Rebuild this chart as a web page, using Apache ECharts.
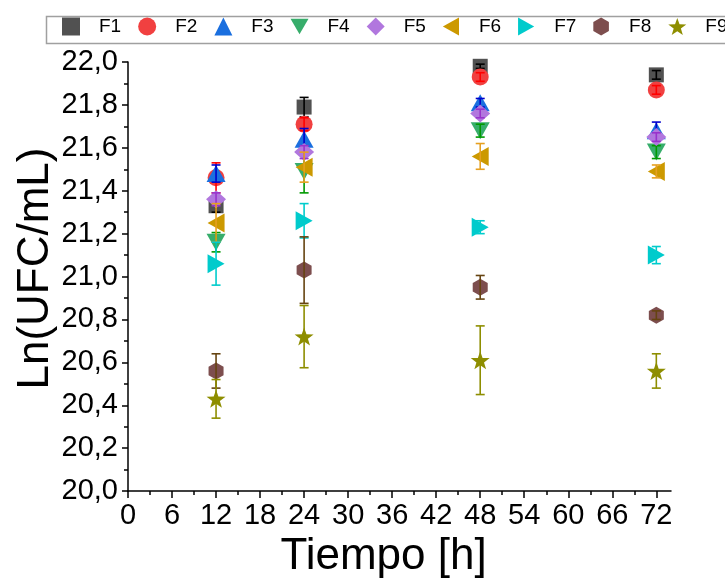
<!DOCTYPE html>
<html>
<head>
<meta charset="utf-8">
<script src="https://cdn.jsdelivr.net/npm/echarts@6/dist/echarts.min.js"></script>
<style>html,body{margin:0;padding:0;background:#fff}#c{width:725px;height:584px}</style>
</head>
<body>
<div id="c"></div>
<script>
const times = [12, 24, 48, 72];
const names = ['F1','F2','F3','F4','F5','F6','F7','F8','F9'];
const F1 = [21.33, 21.79, 21.98, 21.94];
const F2 = [21.46, 21.71, 21.93, 21.87];
const F3 = [21.48, 21.64, 21.81, 21.68];
const F4 = [21.16, 21.49, 21.68, 21.58];
const F5 = [21.36, 21.58, 21.76, 21.65];
const F6 = [21.25, 21.51, 21.56, 21.49];
const F7 = [21.06, 21.26, 21.23, 21.10];
const F8 = [20.56, 21.03, 20.95, 20.82];
const F9 = [20.43, 20.72, 20.61, 20.56];
const F1err = [0.03, 0.045, 0.01, 0.02];
const F2err = [0.07, 0.03, 0.02, 0.02];
const F3err = [0.04, 0.05, 0.02, 0.04];
const F4err = [0.045, 0.10, 0.03, 0.03];
const F5err = [0.03, 0.03, 0.02, 0.02];
const F6err = [0.09, 0.07, 0.06, 0.03];
const F7err = [0.10, 0.08, 0.03, 0.04];
const F8err = [0.08, 0.155, 0.055, 0.02];
const F9err = [0.09, 0.145, 0.16, 0.08];
const xMajorTicks = [0, 6, 12, 18, 24, 30, 36, 42, 48, 54, 60, 66, 72];
const xMinorTicks = [3, 9, 15, 21, 27, 33, 39, 45, 51, 57, 63, 69];

const means = [F1, F2, F3, F4, F5, F6, F7, F8, F9];
const errs = [F1err, F2err, F3err, F4err, F5err, F6err, F7err, F8err, F9err];
const colors = ['#515151', '#F14040', '#1A6FDF', '#37AD6B', '#B177DE', '#CC9900', '#00CBCC', '#7D4E4E', '#8E8E00'];
const errColors = ['#000000', '#FF0000', '#0000CC', '#009900', '#9933CC', '#E6A020', '#00CCCC', '#664411', '#8E8E00'];
const hexPath = 'path://M0,-10 L8.66,-5 L8.66,5 L0,10 L-8.66,5 L-8.66,-5 Z';
const starPath = 'path://M0,-10 L2.35,-3.24 L9.51,-3.09 L3.8,1.24 L5.88,8.09 L0,4 L-5.88,8.09 L-3.8,1.24 L-9.51,-3.09 L-2.35,-3.24 Z';
const downPath = 'path://M0,0 L20,0 L10,17 Z';
const leftPath = 'path://M17,0 L17,19 L0,9.5 Z';
const rightPath = 'path://M0,0 L0,19 L17,9.5 Z';
const symbols = ['rect', 'circle', 'triangle', 'triangle', 'diamond', 'triangle', 'triangle', hexPath, starPath];
const legendIcons = ['rect', 'circle', 'triangle', downPath, 'diamond', leftPath, rightPath, hexPath, starPath];
const sizes = [[15,15], [17,17], [19,17], [19,17], [20,18], [19,17], [19,17], [15,17], [19,18]];
const rotates = [0, 0, 0, 180, 0, 90, -90, 0, 0];

const series = [];
names.forEach((n, i) => {
  series.push({
    type: 'scatter', name: n, z: 2 + i * 2,
    data: times.map((t, j) => [t, means[i][j]]),
    symbol: symbols[i], symbolSize: sizes[i], symbolRotate: rotates[i],
    itemStyle: { color: colors[i], opacity: 1 },
    emphasis: { disabled: true }
  });
  const col = errColors[i];
  series.push({
    type: 'custom', name: n + ' err', z: 3 + i * 2, silent: true,
    data: times.map((t, j) => [t, means[i][j] - errs[i][j], means[i][j] + errs[i][j]]),
    encode: { x: 0, y: [1, 2] },
    renderItem: function (params, api) {
      const x = api.value(0);
      const lo = api.coord([x, api.value(1)]);
      const hi = api.coord([x, api.value(2)]);
      const c = 4.5;
      const st = { stroke: col, lineWidth: 1.6 };
      return {
        type: 'group', children: [
          { type: 'line', shape: { x1: lo[0], y1: lo[1], x2: hi[0], y2: hi[1] }, style: st },
          { type: 'line', shape: { x1: lo[0] - c, y1: lo[1], x2: lo[0] + c, y2: lo[1] }, style: st },
          { type: 'line', shape: { x1: hi[0] - c, y1: hi[1], x2: hi[0] + c, y2: hi[1] }, style: st }
        ]
      };
    }
  });
});

const chart = echarts.init(document.getElementById('c'), null, { renderer: 'canvas' });
chart.setOption({
  animation: false,
  backgroundColor: '#fff',
  textStyle: { fontFamily: 'Liberation Sans, Arial, sans-serif' },
  grid: { left: 128, right: 54, top: 62, bottom: 88, containLabel: false },
  legend: {
    data: names.map((n, i) => ({ name: n, icon: legendIcons[i] })),
    left: 62, top: 17, padding: 0, width: 1000, orient: 'horizontal',
    itemWidth: 18, itemHeight: 18, itemGap: 17,
    textStyle: { fontSize: 19, color: '#000', padding: [0, 0, 0, 14], fontFamily: 'Liberation Sans, Arial, sans-serif' },
    selectedMode: false
  },
  graphic: [{
    type: 'rect', left: 44, top: 14, shape: { width: 700, height: 27 },
    style: { fill: 'none', stroke: '#A0A0A0', lineWidth: 1.5 }, z: -1
  }],
  xAxis: [{
    type: 'value', min: 0, max: 74,
    name: 'Tiempo [h]', nameLocation: 'middle', nameGap: 35,
    nameTextStyle: { fontSize: 44, color: '#000', padding: [0, 32, 0, 0] },
    axisLine: { show: true, onZero: false, lineStyle: { color: '#000', width: 1.5 } },
    axisTick: { show: true, customValues: xMajorTicks, length: 7, lineStyle: { color: '#000', width: 1.5 } },
    axisLabel: { customValues: xMajorTicks, fontSize: 29, color: '#000', margin: 10 },
    splitLine: { show: false }
  }, {
    type: 'value', min: 0, max: 74, position: 'bottom',
    axisLine: { show: false },
    axisTick: { show: true, customValues: xMinorTicks, length: 4, lineStyle: { color: '#000', width: 1.5 } },
    axisLabel: { show: false },
    splitLine: { show: false }
  }],
  yAxis: {
    type: 'value', min: 20, max: 22, interval: 0.2,
    name: 'Ln(UFC/mL)', nameLocation: 'middle', nameGap: 70, nameMoveOverlap: false,
    nameTextStyle: { fontSize: 44, color: '#000', padding: [0, 0, 0, 16] },
    axisLine: { show: true, onZero: false, lineStyle: { color: '#000', width: 1.5 } },
    axisTick: { show: true, length: 6, lineStyle: { color: '#000', width: 1.5 } },
    minorTick: { show: true, splitNumber: 2, length: 4, lineStyle: { color: '#000', width: 1.5 } },
    axisLabel: { fontSize: 29, color: '#000', margin: 10, formatter: v => v.toFixed(1).replace('.', ',') },
    splitLine: { show: false }
  },
  series: series
});
</script>
</body>
</html>
